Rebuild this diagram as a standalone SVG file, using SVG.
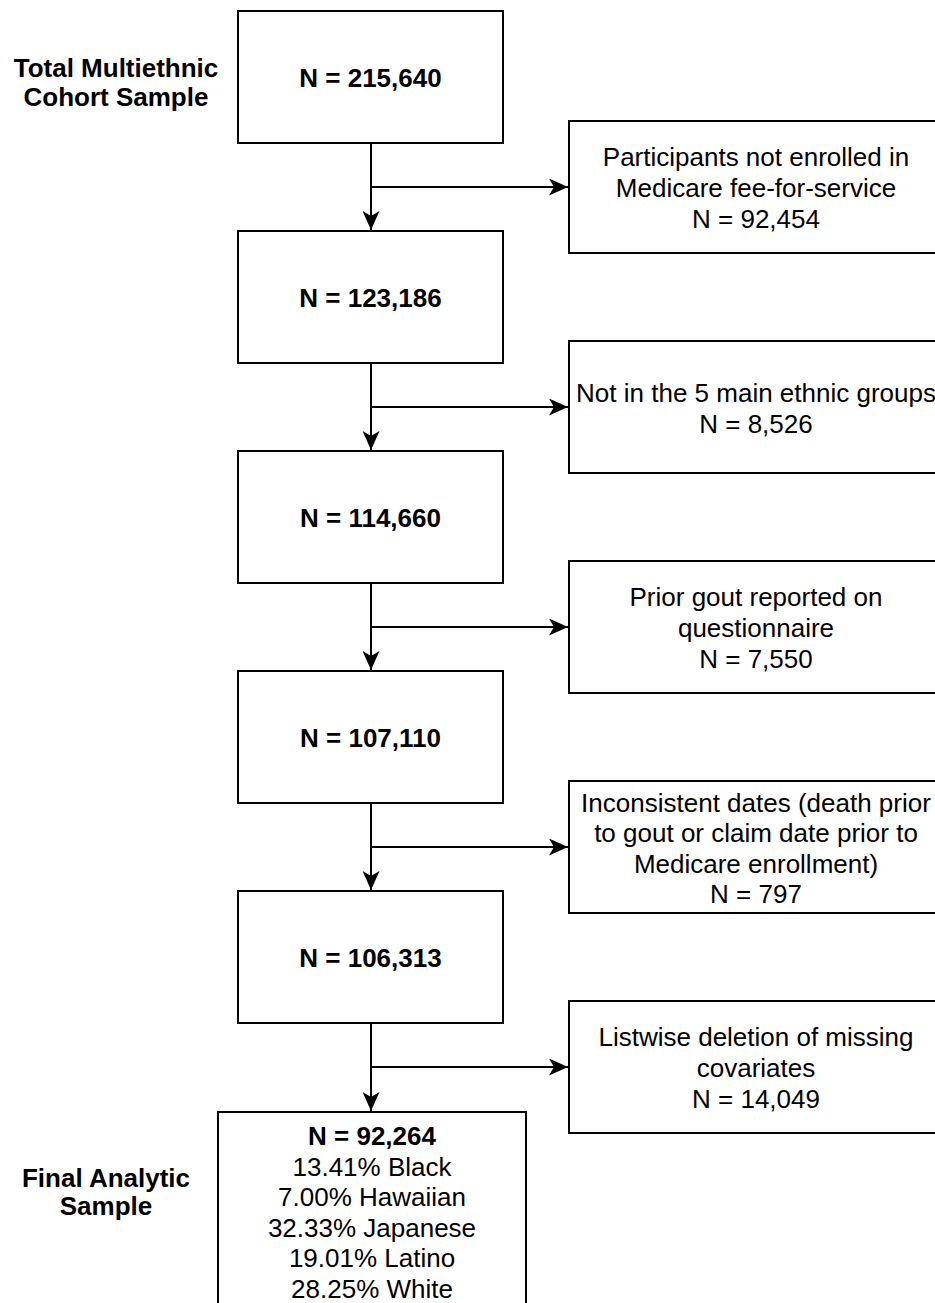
<svg xmlns="http://www.w3.org/2000/svg" width="935" height="1303" viewBox="0 0 935 1303">
<style>
.box{fill:#fff;stroke:#000;stroke-width:2}
.t{font-family:"Liberation Sans",Arial,Helvetica,sans-serif;font-size:26px;fill:#000;text-anchor:middle}
.b{font-weight:bold}
.c{fill:none;stroke:#000;stroke-width:2}
</style>
<defs>
<marker id="arr" markerUnits="userSpaceOnUse" viewBox="0 0 19 17" refX="19" refY="8.5" markerWidth="19" markerHeight="17" orient="auto">
<path d="M0,0 L19,8.5 L0,17 L5,8.5 Z" fill="#000"/>
</marker>
</defs>
<rect width="935" height="1303" fill="#fff"/>

<g id="connectors">
<path class="c" d="M371,143 V230" marker-end="url(#arr)"/>
<path class="c" d="M371,187 H568" marker-end="url(#arr)"/>
<path class="c" d="M371,363 V450" marker-end="url(#arr)"/>
<path class="c" d="M371,407 H568" marker-end="url(#arr)"/>
<path class="c" d="M371,583 V670" marker-end="url(#arr)"/>
<path class="c" d="M371,627 H568" marker-end="url(#arr)"/>
<path class="c" d="M371,803 V890" marker-end="url(#arr)"/>
<path class="c" d="M371,847 H568" marker-end="url(#arr)"/>
<path class="c" d="M371,1023 V1111" marker-end="url(#arr)"/>
<path class="c" d="M371,1067 H568" marker-end="url(#arr)"/>
</g>

<g id="label-total">
<text class="t b" x="116" y="77">Total Multiethnic</text>
<text class="t b" x="116" y="106">Cohort Sample</text>
</g>
<g id="label-final">
<text class="t b" x="106" y="1187">Final Analytic</text>
<text class="t b" x="106" y="1215">Sample</text>
</g>

<g id="n1">
<rect class="box" x="238" y="11" width="265" height="132"/>
<text class="t b" x="370.5" y="87">N = 215,640</text>
</g>
<g id="n2">
<rect class="box" x="238" y="231" width="265" height="132"/>
<text class="t b" x="370.5" y="307">N = 123,186</text>
</g>
<g id="n3">
<rect class="box" x="238" y="451" width="265" height="132"/>
<text class="t b" x="370.5" y="527">N = 114,660</text>
</g>
<g id="n4">
<rect class="box" x="238" y="671" width="265" height="132"/>
<text class="t b" x="370.5" y="747">N = 107,110</text>
</g>
<g id="n5">
<rect class="box" x="238" y="891" width="265" height="132"/>
<text class="t b" x="370.5" y="967">N = 106,313</text>
</g>
<g id="n6">
<rect class="box" x="218" y="1112" width="308" height="205"/>
<text class="t b" x="372" y="1145">N = 92,264</text>
<text class="t" x="372" y="1175.6">13.41% Black</text>
<text class="t" x="372" y="1206.2">7.00% Hawaiian</text>
<text class="t" x="372" y="1236.8">32.33% Japanese</text>
<text class="t" x="372" y="1267.4">19.01% Latino</text>
<text class="t" x="372" y="1298">28.25% White</text>
</g>

<g id="e1">
<rect class="box" x="569" y="121" width="374" height="132"/>
<text class="t" x="756" y="166.4">Participants not enrolled in</text>
<text class="t" x="756" y="197">Medicare fee-for-service</text>
<text class="t" x="756" y="227.6">N = 92,454</text>
</g>
<g id="e2">
<rect class="box" x="569" y="341" width="374" height="132"/>
<text class="t" x="756" y="402">Not in the 5 main ethnic groups</text>
<text class="t" x="756" y="432.6">N = 8,526</text>
</g>
<g id="e3">
<rect class="box" x="569" y="561" width="374" height="132"/>
<text class="t" x="756" y="606.4">Prior gout reported on</text>
<text class="t" x="756" y="637">questionnaire</text>
<text class="t" x="756" y="667.6">N = 7,550</text>
</g>
<g id="e4">
<rect class="box" x="569" y="781" width="374" height="132"/>
<text class="t" x="756" y="811.5">Inconsistent dates (death prior</text>
<text class="t" x="756" y="842.1">to gout or claim date prior to</text>
<text class="t" x="756" y="872.7">Medicare enrollment)</text>
<text class="t" x="756" y="903.3">N = 797</text>
</g>
<g id="e5">
<rect class="box" x="569" y="1001" width="374" height="132"/>
<text class="t" x="756" y="1046.4">Listwise deletion of missing</text>
<text class="t" x="756" y="1077">covariates</text>
<text class="t" x="756" y="1107.6">N = 14,049</text>
</g>
</svg>
